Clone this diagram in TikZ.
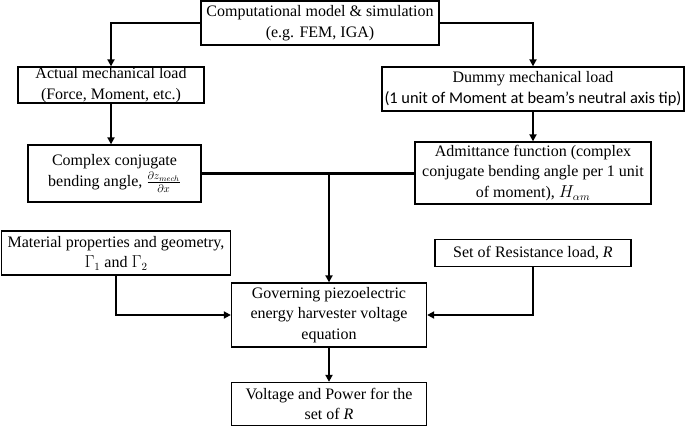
\documentclass[tikz,border=0pt]{standalone}
\usepackage{amsmath}
\usepackage{amssymb}
\usepackage{fontspec}
\usepackage{tikz}
\setmainfont{Liberation Serif}
\newfontfamily\calibrifont{Carlito}
\usetikzlibrary{arrows.meta}
\usetikzlibrary{calc}
\tikzset{box/.style = {draw, line width = 1.3, align = center, inner sep = 0,
    font = \fontsize{16}{20.5}\selectfont}}
\tikzset{link/.style = {line width = 2.4}}
\tikzset{arr/.style = {link, -{Triangle[length = 7, width = 7]}}}

\begin{document}
\begin{tikzpicture}[x = 1pt, y = -1pt]
    \useasboundingbox (0, 0) rectangle (685, 427);

    \node [box, minimum width = 238, minimum height = 44] (model) at (320, 23)
        {Computational model \& simulation\\(e.g. FEM, IGA)};
    \node [box, minimum width = 186, minimum height = 36] (actual) at (111, 85)
        {Actual mechanical load\\(Force, Moment, etc.)};
    \node [box, minimum width = 302, minimum height = 44] (dummy) at (533, 89)
        {Dummy mechanical load\\{\calibrifont\fontsize{16.4}{20.5}\selectfont (1 unit of Moment at beam’s neutral axis tip)}};
    \node [box, minimum width = 173, minimum height = 57] (conj) at (114.5, 173.5)
        {Complex conjugate\\bending angle, $\frac{\partial z_{mech}}{\partial x}$};
    \node [box, minimum width = 236, minimum height = 62] (admit) at (533, 173)
        {Admittance function (complex\\conjugate bending angle per 1 unit\\of moment), $H_{\alpha m}$};
    \node [box, minimum width = 229, minimum height = 44] (material) at (116, 253)
        {Material properties and geometry,\\$\Gamma_1$ and $\Gamma_2$};
    \node [box, minimum width = 196, minimum height = 27] (resist) at (533, 253)
        {Set of Resistance load, \textit{R}};
    \node [box, minimum width = 195, minimum height = 64] (govern) at (329, 315)
        {Governing piezoelectric\\energy harvester voltage\\equation};
    \node [box, minimum width = 195, minimum height = 43] (volt) at (329, 404)
        {Voltage and Power for the\\set of \textit{R}};

    \draw [arr] (model.west) -| (actual.north);
    \draw [arr] (model.east) -| (dummy.north);
    \draw [arr] (actual.south) -- (actual.south |- conj.north);
    \draw [arr] (dummy.south) -- (admit.north);

    \coordinate (join) at (govern.north |- admit.west);
    \draw [link] (conj.east) -- (conj.east -| admit.west);
    \draw [arr] (join) -- (govern.north);

    \draw [arr] (material.south) |- (govern.west);
    \draw [arr] (resist.south) |- (govern.east);
    \draw [arr] (govern.south) -- (volt.north);
\end{tikzpicture}
\end{document}
